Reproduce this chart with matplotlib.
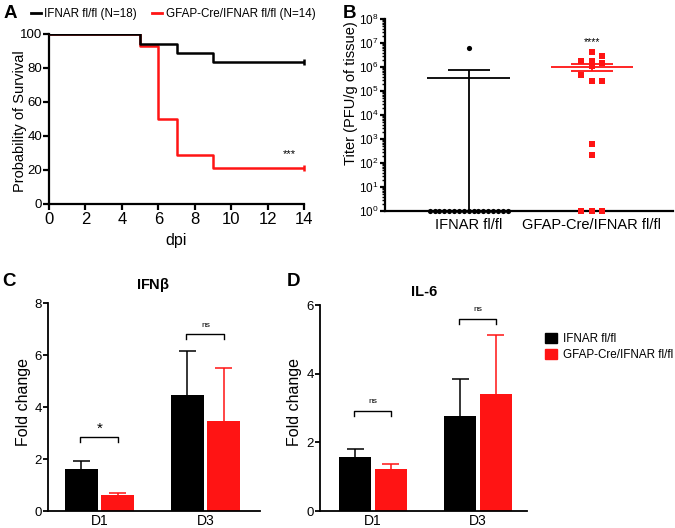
import matplotlib
matplotlib.use('Agg')
import matplotlib.pyplot as plt
import numpy as np
from matplotlib.lines import Line2D
from matplotlib.patches import Patch
from matplotlib.ticker import LogLocator, NullFormatter

plt.rcParams['font.family'] = ['Liberation Sans', 'DejaVu Sans']

# ---------------- data ----------------
groups = ['IFNAR fl/fl', 'GFAP-Cre/IFNAR fl/fl']
legend_a = ['IFNAR fl/fl (N=18)', 'GFAP-Cre/IFNAR fl/fl (N=14)']

# A: survival
surv_ctrl_t = [0, 5, 7, 9, 14]
surv_ctrl_p = [100, 94.4, 88.9, 83.3, 83.3]
surv_ko_t = [0, 5, 6, 7, 9, 14]
surv_ko_p = [100, 92.9, 50.0, 28.6, 21.4, 21.4]

# B: titers
titer_ctrl = [6.0e6] + [1] * 17
titer_ctrl_mean = 3.6e5
titer_ctrl_sem = 3.6e5
titer_ko = [4.1e6, 2.9e6, 1.7e6, 1.7e6, 1.5e6, 1.1e6, 4.6e5, 2.6e5, 2.6e5,
            600, 220, 1, 1, 1]
titer_ko_col = [0, 1, -1, 0, 1, 0, -1, 0, 1, 0, 0, -1, 0, 1]
titer_ko_mean = 1.0e6
titer_ko_sem = 0.34e6

# C / D: fold change
days = ['D1', 'D3']
ifnb_ctrl = [1.60, 4.47]
ifnb_ctrl_err = [0.33, 1.70]
ifnb_ko = [0.60, 3.45]
ifnb_ko_err = [0.08, 2.05]
il6_ctrl = [1.57, 2.77]
il6_ctrl_err = [0.24, 1.07]
il6_ko = [1.22, 3.41]
il6_ko_err = [0.16, 1.71]

BLACK = '#000000'
RED = '#ff1414'

W, H = 675, 528
fig = plt.figure(figsize=(W / 100, H / 100), dpi=100)


def px_axes(l, t, r, b):
    return fig.add_axes([l / W, 1 - b / H, (r - l) / W, (b - t) / H])


def style(ax, lw=1.4):
    for s in ['top', 'right']:
        ax.spines[s].set_visible(False)
    for s in ['left', 'bottom']:
        ax.spines[s].set_linewidth(lw)
    ax.tick_params(width=lw, length=3.5, direction='out', color='black')


# ---------------- A ----------------
axA = px_axes(49, 34, 304, 204)
style(axA, 1.6)
axA.step(surv_ko_t, surv_ko_p, where='post', color=RED, lw=1.8, zorder=3)
axA.step(surv_ctrl_t, surv_ctrl_p, where='post', color=BLACK, lw=1.8, zorder=4)
axA.plot([surv_ko_t[-1]], [surv_ko_p[-1]], marker='|', color=RED, ms=4, mew=1.8, clip_on=False, zorder=5)
axA.plot([surv_ctrl_t[-1]], [surv_ctrl_p[-1]], marker='|', color=BLACK, ms=4, mew=1.8, clip_on=False, zorder=5)
axA.set_xlim(0, 14)
axA.set_ylim(0, 100)
axA.set_xticks(range(0, 15, 2))
axA.set_yticks(range(0, 101, 20))
axA.tick_params(axis='x', labelsize=12, pad=2, length=4)
axA.tick_params(axis='y', labelsize=9.5, pad=1, length=4)
axA.set_xlabel('dpi', fontsize=11.5, labelpad=4)
axA.set_ylabel('Probability of Survival', fontsize=10.5)
axA.yaxis.set_label_coords(-0.088, 0.49)
axA.text(13.2, 29.5, '***', fontsize=8, ha='center', va='center')

fig.legend(handles=[Line2D([], [], color=BLACK, lw=2), Line2D([], [], color=RED, lw=2)],
           labels=legend_a, loc='center left', bbox_to_anchor=(31 / W, 1 - 14 / H),
           ncol=2, frameon=False, fontsize=8.4, handlelength=0.85, handletextpad=0.3,
           columnspacing=1.3, borderpad=0, borderaxespad=0)

# ---------------- B ----------------
axB = px_axes(385, 19, 673, 211)
style(axB, 1.6)
axB.set_yscale('log')
axB.set_ylim(1, 1e8)
axB.set_xlim(-0.68, 1.66)
axB.yaxis.set_major_locator(LogLocator(base=10, numticks=20))
axB.yaxis.set_minor_locator(LogLocator(base=10, subs=np.arange(2, 10), numticks=20))
axB.yaxis.set_minor_formatter(NullFormatter())
axB.tick_params(axis='y', which='major', labelsize=8.5, length=3.5, pad=1)
axB.tick_params(axis='y', which='minor', length=2, width=1)
axB.set_xticks([0, 1])
axB.set_xticklabels(groups, fontsize=10.5)
axB.tick_params(axis='x', length=0, pad=5)
fig.text(351 / W, 1 - 93 / H, 'Titer (PFU/g of tissue)', rotation=90, ha='center', va='center', fontsize=10.5)

# black group: spread identical values horizontally
vals = np.array(titer_ctrl)
xs = np.zeros(len(vals))
for v in np.unique(vals):
    idx = np.where(vals == v)[0]
    n = len(idx)
    xs[idx] = (np.arange(n) - (n - 1) / 2) * 0.0396
axB.scatter(xs, vals, s=14, color=BLACK, marker='o', clip_on=False, zorder=5, linewidths=0)
axB.scatter(1 + np.array(titer_ko_col) * 0.086, titer_ko, s=24, color=RED, marker='s',
            clip_on=False, zorder=5, linewidths=0)

for c, m, s, col in [(0, titer_ctrl_mean, titer_ctrl_sem, BLACK), (1, titer_ko_mean, titer_ko_sem, RED)]:
    lo = max(m - s, 1)
    hi = m + s
    axB.hlines(m, c - 0.335, c + 0.335, color=col, lw=1.3, zorder=6)
    axB.vlines(c, lo, hi, color=col, lw=1.3, zorder=6, clip_on=False)
    axB.hlines(hi, c - 0.17, c + 0.17, color=col, lw=1.3, zorder=6)
    if m - s > 1:
        axB.hlines(lo, c - 0.17, c + 0.17, color=col, lw=1.3, zorder=6)
axB.text(1, 1.1e7, '****', fontsize=7.5, ha='center', va='center')


# ---------------- C & D ----------------
def bar_panel(ax, ctrl, ctrl_err, ko, ko_err, ylim, yticks, xlim):
    style(ax, 1.3)
    x = np.arange(len(days))
    off, w, capw = 0.17, 0.31, 0.08
    ax.bar(x - off, ctrl, w, color=BLACK, zorder=2)
    ax.bar(x + off, ko, w, color=RED, zorder=2)
    for xi, v, e, col in list(zip(x - off, ctrl, ctrl_err, [BLACK] * 2)) + list(zip(x + off, ko, ko_err, [RED] * 2)):
        ax.vlines(xi, v, v + e, color=col, lw=1.1, zorder=1)
        ax.hlines(v + e, xi - capw, xi + capw, color=col, lw=1.1, zorder=1)
    ax.set_ylim(*ylim)
    ax.set_yticks(yticks)
    ax.set_xlim(*xlim)
    ax.set_xticks(x)
    ax.set_xticklabels(days, fontsize=10)
    ax.tick_params(axis='x', length=0, pad=2)
    ax.tick_params(axis='y', labelsize=9.5, pad=1)


def bracket(ax, xc, y, leg, label, fs, dy):
    ax.plot([xc - 0.18, xc - 0.18, xc + 0.17, xc + 0.17], [y - leg, y, y, y - leg], color=BLACK, lw=1.0)
    ax.text(xc, y + dy, label, ha='center', va='center', fontsize=fs)


axC = px_axes(48, 303, 260, 511)
bar_panel(axC, ifnb_ctrl, ifnb_ctrl_err, ifnb_ko, ifnb_ko_err, (0, 8), [0, 2, 4, 6, 8], (-0.486, 1.514))
bracket(axC, 0, 2.85, 0.19, '*', 11, 0.33)
bracket(axC, 1, 6.8, 0.19, 'ns', 6, 0.33)
fig.text(153 / W, 1 - 285 / H, r'IFN$\mathregular{\beta}$', fontsize=10.5, fontweight='bold', ha='center', va='center')
fig.text(24 / W, 1 - 402 / H, 'Fold change', rotation=90, ha='center', va='center', fontsize=11.5)

axD = px_axes(320, 305, 527, 511)
bar_panel(axD, il6_ctrl, il6_ctrl_err, il6_ko, il6_ko_err, (0, 6), [0, 2, 4, 6], (-0.505, 1.467))
bracket(axD, 0, 2.92, 0.15, 'ns', 6, 0.26)
bracket(axD, 1, 5.6, 0.15, 'ns', 6, 0.26)
fig.text(424 / W, 1 - 292 / H, 'IL-6', fontsize=10.5, fontweight='bold', ha='center', va='center')
fig.text(295 / W, 1 - 402 / H, 'Fold change', rotation=90, ha='center', va='center', fontsize=11.5)

fig.legend(handles=[Patch(color=BLACK), Patch(color=RED)], labels=groups,
           loc='upper left', bbox_to_anchor=(545 / W, 1 - 333 / H), frameon=False,
           fontsize=8.4, handlelength=1.05, handleheight=0.9, handletextpad=0.5,
           labelspacing=0.35, borderpad=0, borderaxespad=0)

# panel letters
for lab, xp, yp in [('A', 10, 14), ('B', 350, 14), ('C', 9, 281), ('D', 294, 281)]:
    fig.text(xp / W, 1 - yp / H, lab, fontsize=13.5, fontweight='bold', ha='center', va='center')

fig.savefig('out.png', dpi=100)
